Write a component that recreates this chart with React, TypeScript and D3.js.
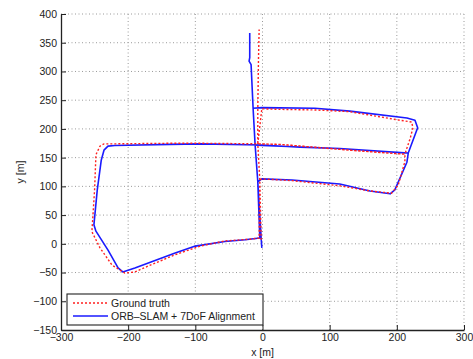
import { useEffect, useRef } from 'react';
import * as d3 from 'd3';

// ---- data (metres) ----
const xTicks = [-300, -200, -100, 0, 100, 200, 300];
const yTicks = [-150, -100, -50, 0, 50, 100, 150, 200, 250, 300, 350, 400];

const legendLabels = ['Ground truth', 'ORB\u2013SLAM + 7DoF Alignment'];

const groundTruth: [number, number][] = [
  [-2, 7], [-4, 111], [-1, 113], [44, 110], [115, 101], [160, 92], [192, 88],
  [202, 102], [212, 143], [212, 156], [175, 159], [130, 163], [26, 173], [-7, 174],
  [-93, 175], [-138, 175], [-220, 174], [-236, 174], [-242, 170], [-248, 155],
  [-250, 94], [-254, 21], [-242, -7], [-224, -37], [-205, -51], [-190, -49],
  [-167, -37], [-130, -19], [-93, -4], [-56, 5], [-19, 8], [-5, 10], [-4, 111],
  [-7, 174], [-1, 235], [26, 234], [78, 233], [130, 230], [205, 215], [222, 212],
  [224, 202], [220, 184], [212, 156], [175, 159], [130, 163], [26, 173], [-7, 174],
  [-7, 235], [-6, 320], [-5, 373],
];

const orbSlam: [number, number][] = [
  [-1, -7], [-2, 10], [-7, 108], [-1, 113], [44, 111], [115, 104], [160, 92],
  [190, 87], [197, 94], [215, 142], [217, 158], [212, 158], [115, 166], [56, 168],
  [-1, 172], [-93, 174], [-138, 173], [-220, 171], [-230, 170], [-236, 163],
  [-240, 146], [-246, 94], [-251, 33], [-248, 22], [-230, -11], [-215, -42],
  [-208, -49], [-190, -42], [-167, -32], [-130, -16], [-100, -4], [-56, 4],
  [-26, 7], [-4, 10], [-7, 108], [-11, 172], [-14, 236], [-1, 237], [78, 236],
  [130, 231], [215, 219], [227, 215], [231, 202], [217, 158], [115, 166],
  [-1, 171], [-11, 172], [-14, 236], [-17, 312], [-20, 318], [-19, 324], [-19, 367],
];

const W = 473;
const H = 359;
const FONT = '"Liberation Sans", Arial, sans-serif';

const App = () => {
  const svgRef = useRef<SVGSVGElement>(null);

  useEffect(() => {
    const svg = d3.select(svgRef.current);
    svg.selectAll('*').remove();

    const x = d3.scaleLinear().domain([-300, 300]).range([61, 464]);
    const y = d3.scaleLinear().domain([-150, 400]).range([330, 14]);

    // grid
    const grid = svg.append('g')
      .attr('stroke', '#9a9a9a')
      .attr('stroke-width', 1)
      .attr('stroke-dasharray', '1,2.5');
    xTicks.slice(1).forEach(t => {
      grid.append('line')
        .attr('x1', x(t)).attr('x2', x(t))
        .attr('y1', y(-150)).attr('y2', y(400));
    });
    yTicks.slice(1).forEach(t => {
      grid.append('line')
        .attr('x1', x(-300)).attr('x2', x(300))
        .attr('y1', y(t)).attr('y2', y(t));
    });

    // trajectories
    const line = d3.line<[number, number]>()
      .x(d => x(d[0]))
      .y(d => y(d[1]));

    svg.append('path')
      .datum(orbSlam)
      .attr('fill', 'none')
      .attr('stroke', '#1a1aff')
      .attr('stroke-width', 1.6)
      .attr('stroke-linejoin', 'round')
      .attr('d', line);

    svg.append('path')
      .datum(groundTruth)
      .attr('fill', 'none')
      .attr('stroke', '#ff2020')
      .attr('stroke-width', 1.4)
      .attr('stroke-dasharray', '2,2')
      .attr('d', line);

    // axes
    const fmt = (d: d3.NumberValue) => d3.format('d')(d as number).replace('-', '\u2212');
    const xAxis = svg.append('g')
      .attr('transform', `translate(0,${y(-150)})`)
      .call(d3.axisBottom(x).tickValues(xTicks).tickSizeInner(-5).tickSizeOuter(0)
        .tickPadding(4).tickFormat(fmt));
    const yAxis = svg.append('g')
      .attr('transform', `translate(${x(-300)},0)`)
      .call(d3.axisLeft(y).tickValues(yTicks).tickSizeInner(-5).tickSizeOuter(0)
        .tickPadding(4).tickFormat(fmt));

    [xAxis, yAxis].forEach(a => {
      a.select('.domain').attr('stroke', '#222').attr('stroke-width', 1.3);
      a.selectAll('.tick line').attr('stroke', '#222');
      a.selectAll('.tick text')
        .attr('fill', '#222')
        .style('font-family', FONT)
        .style('font-size', '10.5px');
    });

    svg.append('text')
      .attr('x', x(0))
      .attr('y', 356)
      .attr('text-anchor', 'middle')
      .style('font-family', FONT)
      .style('font-size', '10.5px')
      .attr('fill', '#222')
      .text('x [m]');

    svg.append('text')
      .attr('transform', `translate(24,${y(125)}) rotate(-90)`)
      .attr('text-anchor', 'middle')
      .style('font-family', FONT)
      .style('font-size', '10.5px')
      .attr('fill', '#222')
      .text('y [m]');

    // legend
    const lg = svg.append('g');
    lg.append('rect')
      .attr('x', 67).attr('y', 294)
      .attr('width', 196).attr('height', 31)
      .attr('fill', 'white')
      .attr('stroke', '#222')
      .attr('stroke-width', 1.1);
    lg.append('line')
      .attr('x1', 73).attr('x2', 108).attr('y1', 303).attr('y2', 303)
      .attr('stroke', '#ff2020').attr('stroke-width', 1.4).attr('stroke-dasharray', '2,2');
    lg.append('line')
      .attr('x1', 73).attr('x2', 108).attr('y1', 316).attr('y2', 316)
      .attr('stroke', '#1a1aff').attr('stroke-width', 1.6);
    legendLabels.forEach((l, i) => {
      lg.append('text')
        .attr('x', 111)
        .attr('y', 307 + i * 13)
        .style('font-family', FONT)
        .style('font-size', '10.5px')
        .attr('fill', '#222')
        .text(l);
    });
  }, []);

  return (
    <div>
      <style>{'body{margin:0;background:#fff}'}</style>
      <svg ref={svgRef} width={W} height={H} style={{ display: 'block' }} />
    </div>
  );
};

export default App;
